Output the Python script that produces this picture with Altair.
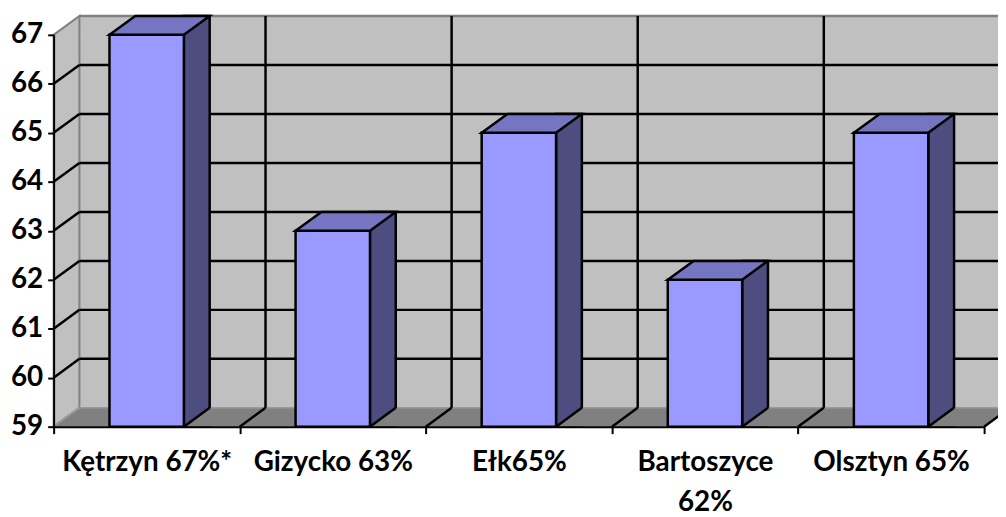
import altair as alt
import pandas as pd

# ---- data ----
categories = ["Kętrzyn 67%*", "Gizycko 63%", "Ełk65%", "Bartoszyce 62%", "Olsztyn 65%"]
values = [67, 63, 65, 62, 65]
y_ticks = [59, 60, 61, 62, 63, 64, 65, 66, 67]

# ---- layout / style constants ----
W, H = 938, 395          # plot area
DX, DY = 26, -19         # 3-D depth offset in pixels
BAR_W = 75               # bar front width in pixels
Y_MIN, Y_MAX = y_ticks[0], y_ticks[-1]

FRONT = "#9999ff"
TOP = "#7575c1"
SIDE = "#4d4d80"
WALL = "#c0c0c0"
FLOOR = "#808080"
EDGE = "#808080"
FONT = "Lato"
FS = 28

bars = pd.DataFrame({"cat": categories, "val": values})
ticks = pd.DataFrame({"t": y_ticks})
one = pd.DataFrame({"k": [0]})

xs = alt.Scale(type="band", domain=categories, paddingInner=0, paddingOuter=0)
ys = alt.Scale(domain=[Y_MIN, Y_MAX], zero=False, nice=False)

AX_X = alt.Axis(
    labelAngle=0, tickBand="extent", domainColor="black", domainWidth=2,
    tickColor="black", tickWidth=2, tickSize=7, labelFont=FONT,
    labelFontSize=FS, labelFontWeight="bold", labelColor="black",
    labelPadding=15, labelLineHeight=41, labelLimit=0, grid=False,
    zindex=1, labelOverlap=False, title=None,
    labelExpr="length(datum.label) > 13 ? split(datum.label, ' ') : datum.label",
)
AX_Y = alt.Axis(
    values=y_ticks, format="d", domainColor="black", domainWidth=2,
    tickColor="black", tickWidth=2, tickSize=6, labelFont=FONT,
    labelFontSize=FS, labelFontWeight="bold", labelColor="black",
    labelPadding=5, grid=False, zindex=1, title=None,
)

Xc = alt.X("cat:N", scale=xs, sort=categories, axis=AX_X, title=None)
Xend = alt.X("cat:N", scale=xs, sort=categories, axis=AX_X, title=None, bandPosition=1)
Ybase = alt.Y(datum=Y_MIN, type="quantitative", scale=ys, axis=AX_Y, title=None)
Yval = alt.Y("val:Q", scale=ys, axis=AX_Y, title=None)
Ytick = alt.Y("t:Q", scale=ys, axis=AX_Y, title=None)
Y2top = alt.Y2(datum=Y_MAX)
Y2base = alt.Y2(datum=Y_MIN)

# back wall
back_wall = alt.Chart(one).mark_rect(
    fill=WALL, xOffset=DX, x2Offset=DX, yOffset=DY, y2Offset=DY
).encode(x=alt.value(0), x2=alt.value("width"), y=Ybase, y2=Y2top)

# side (left) wall
side_wall = alt.Chart(one).mark_point(
    shape=f"M0,0 L0,{-H} L{DX},{-H + DY} L{DX},{DY} Z", size=4, opacity=1,
    filled=True, fill=WALL, stroke=EDGE, strokeWidth=2
).encode(x=alt.value(0), y=Ybase)

# floor
floor = alt.Chart(one).mark_point(
    shape=f"M0,0 L{W},0 L{W + DX},{DY} L{DX},{DY} Z", size=4, opacity=1,
    filled=True, fill=FLOOR, stroke="#9a9a9a", strokeWidth=1.5
).encode(x=alt.value(0), y=Ybase)

# horizontal grid on back wall
h_grid = alt.Chart(ticks).transform_filter(
    (alt.datum.t > Y_MIN)
).mark_rule(xOffset=DX, x2Offset=DX, yOffset=DY, strokeWidth=2.5).encode(
    y=Ytick,
    x=alt.value(0), x2=alt.value("width"),
    color=alt.condition(alt.datum.t < Y_MAX, alt.value("black"), alt.value(EDGE)),
)

# vertical grid on back wall
v_grid = alt.Chart(bars).mark_rule(
    xOffset=DX, yOffset=DY, y2Offset=DY, strokeWidth=2.5, color="black"
).encode(x=Xend, y=Ybase, y2=Y2top)

# diagonal grid on side wall
side_diag = alt.Chart(ticks).transform_filter(
    (alt.datum.t > Y_MIN) & (alt.datum.t < Y_MAX)
).mark_point(
    shape=f"M0,0 L{DX},{DY}", size=4, opacity=1, filled=False,
    stroke="black", strokeWidth=2.5
).encode(x=alt.value(0), y=Ytick)

# diagonal grid on floor
floor_diag = alt.Chart(bars).mark_point(
    shape=f"M0,0 L{DX},{DY}", size=4, opacity=1, filled=False,
    stroke="black", strokeWidth=2.5
).encode(x=Xend, y=Ybase)

half = BAR_W / 2

# bar side faces
side_face = alt.Chart(bars).mark_bar(
    fill=SIDE, stroke="black", strokeWidth=2.5, width=DX,
    xOffset=half + DX / 2, yOffset=DY, y2Offset=0
).encode(x=Xc, y=Yval, y2=Y2base)

# floor patch under the side faces
patch = alt.Chart(bars).mark_point(
    shape=f"M{half},0 L{half + DX},{DY} L{half + DX + 2},{DY} L{half + DX + 2},0 Z",
    size=4, opacity=1, filled=True, fill=FLOOR, strokeWidth=0
).encode(x=Xc, y=Ybase)

patch_line = alt.Chart(bars).mark_point(
    shape=f"M{half},0 L{half + DX},{DY}", size=4, opacity=1, filled=False,
    stroke="black", strokeWidth=2.5
).encode(x=Xc, y=Ybase)

# bar front faces
front = alt.Chart(bars).mark_bar(
    fill=FRONT, stroke="black", strokeWidth=2.5, width=BAR_W
).encode(x=Xc, y=Yval, y2=Y2base)

# bar top faces
top_face = alt.Chart(bars).mark_point(
    shape=f"M{-half},0 L{half},0 L{half + DX},{DY} L{-half + DX},{DY} Z",
    size=4, opacity=1, filled=True, fill=TOP, stroke="black", strokeWidth=2.5
).encode(x=Xc, y=Yval)

chart = alt.layer(
    back_wall, side_wall, floor, h_grid, v_grid, side_diag, floor_diag,
    side_face, patch, patch_line, front, top_face
).properties(
    width=W, height=H,
    padding={"left": 46, "top": 25, "right": 14, "bottom": 89},
    autosize=alt.AutoSizeParams(type="none"),
    background="white",
).configure_view(stroke=None)

chart.save("out.html", embed_options={"renderer": "svg", "actions": False})
